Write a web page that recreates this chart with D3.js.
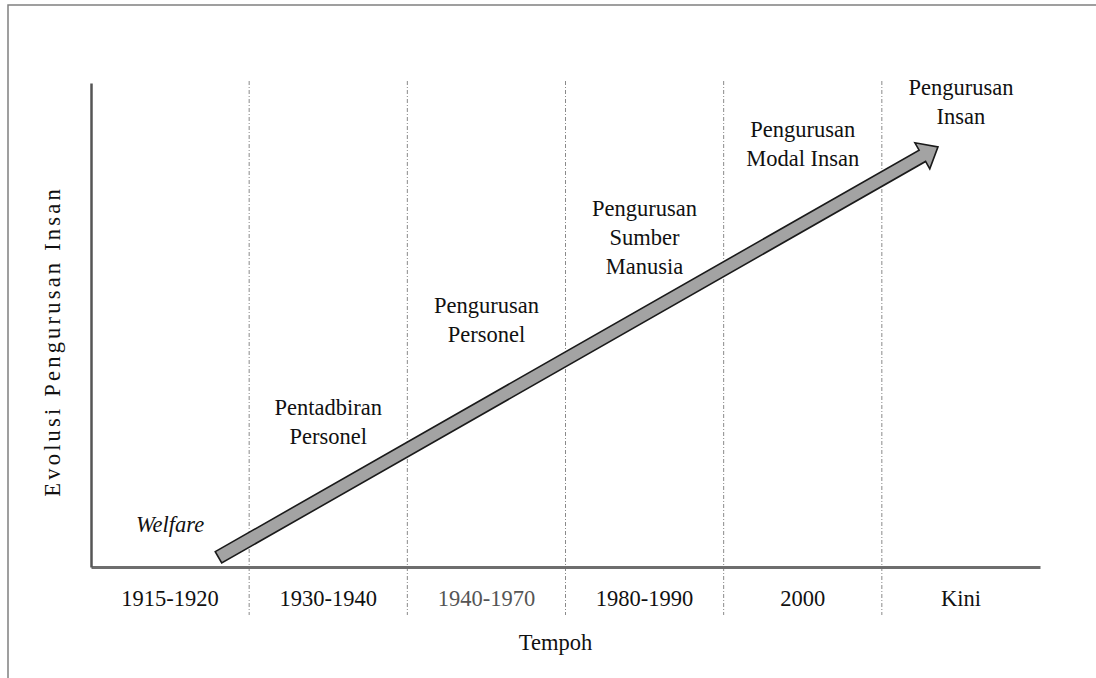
<!DOCTYPE html>
<html>
<head>
<meta charset="utf-8">
<script src="https://cdn.jsdelivr.net/npm/d3@7"></script>
</head>
<body style="margin:0; background:#fff">
<div id="chart"></div>
<script>
// periods on the x axis
const periods = ['1915-1920', '1930-1940', '1940-1970', '1980-1990', '2000', 'Kini'];
// stage names, one per period (lines of the label)
const stages = [
    ['Welfare'],
    ['Pentadbiran', 'Personel'],
    ['Pengurusan', 'Personel'],
    ['Pengurusan', 'Sumber', 'Manusia'],
    ['Pengurusan', 'Modal Insan'],
    ['Pengurusan', 'Insan']
];
// level of each stage label (0-100 on the evolution axis)
const stageLevels = [7.2, 31.4, 52.5, 72.5, 88.8, 97.5];
// arrow start / end: [position in periods, level]
const arrowFrom = [0.806, 2];
const arrowTo = [5.355, 86.8];

const xTitle = 'Tempoh';
const yTitle = 'Evolusi Pengurusan Insan';

let width = 1096, height = 678;

// serif font like the original, set on each text
function serif(sel) {
    sel.attr('font-family', 'Liberation Serif')
        .attr('font-size', 22.5)
        .attr('fill', '#111');
    return sel;
}

let svg = d3.select('#chart').append('svg')
    .attr('width', width)
    .attr('height', height);

// frame (only top and left edges are visible in the picture)
svg.append('rect')
    .attr('x', 8).attr('y', 5)
    .attr('width', 1300).attr('height', 1000)
    .attr('fill', 'none')
    .attr('stroke', '#808080')
    .attr('stroke-width', 1.5);

let x = d3.scaleBand().domain(periods).range([91, 1040]);
let xPos = d3.scaleLinear().domain([0, periods.length]).range(x.range());
let y = d3.scaleLinear().domain([0, 100]).range([567, 83]);

// period separators
svg.append('g')
    .selectAll('line')
    .data(periods.slice(1))
    .join('line')
    .attr('x1', d => x(d)).attr('x2', d => x(d))
    .attr('y1', y(100) - 2).attr('y2', y(0) + 48)
    .attr('stroke', '#8a8a8a')
    .attr('stroke-width', 1)
    .attr('stroke-dasharray', '4,2,1,2');

// Add the X Axis
let xAxis = svg.append('g')
    .attr('transform', 'translate(0,' + y(0) + ')')
    .call(d3.axisBottom(x).tickSize(0).tickSizeOuter(0).tickPadding(23));
xAxis.select('.domain').attr('stroke', '#6e6e6e').attr('stroke-width', 3);
serif(xAxis.selectAll('text'))
    .attr('fill', (d, i) => i === 2 ? '#555' : '#111');

// Add the Y Axis
let yAxis = svg.append('g')
    .attr('transform', 'translate(' + x.range()[0] + ',0)')
    .call(d3.axisLeft(y).ticks(0).tickSize(0).tickSizeOuter(0));
yAxis.select('.domain').attr('stroke', '#555').attr('stroke-width', 2.5);

// axis titles
serif(svg.append('text'))
    .attr('x', xPos(3) - 10)
    .attr('y', 650)
    .attr('text-anchor', 'middle')
    .text(xTitle);

// y title is spread out a bit more, done with per-glyph dx
serif(svg.append('text'))
    .attr('transform', 'translate(60,' + 343 + ') rotate(-90)')
    .attr('text-anchor', 'middle')
    .attr('dx', yTitle.split('').map((c, i) => i === 0 ? 0 : 3.2).join(' '))
    .text(yTitle);

// the arrow
let p0 = [xPos(arrowFrom[0]), y(arrowFrom[1])],
    p1 = [xPos(arrowTo[0]), y(arrowTo[1])];
let len = Math.hypot(p1[0] - p0[0], p1[1] - p0[1]),
    ang = Math.atan2(p1[1] - p0[1], p1[0] - p0[0]) * 180 / Math.PI;
let shaft = 6.5, head = 15, headLen = 18;
let arrowPts = [
    [0, -shaft], [len - headLen, -shaft], [len - headLen, -head], [len, 0],
    [len - headLen, head], [len - headLen, shaft], [0, shaft]
];
svg.append('path')
    .attr('transform', 'translate(' + p0[0] + ',' + p0[1] + ') rotate(' + ang + ')')
    .attr('d', d3.line()(arrowPts) + 'Z')
    .attr('fill', '#a3a3a3')
    .attr('stroke', '#1a1a1a')
    .attr('stroke-width', 1.6)
    .attr('stroke-linejoin', 'miter');

// stage labels, one text per line
svg.append('g')
    .selectAll('g')
    .data(stages)
    .join('g')
    .each(function(lines, i) {
        serif(d3.select(this).selectAll('text')
            .data(lines)
            .join('text'))
            .attr('text-anchor', 'middle')
            .attr('x', x(periods[i]) + x.bandwidth() / 2)
            .attr('y', (d, j) => y(stageLevels[i]) + j * 29)
            .attr('font-style', i === 0 ? 'italic' : 'normal')
            .text(d => d);
    });
</script>
</body>
</html>
